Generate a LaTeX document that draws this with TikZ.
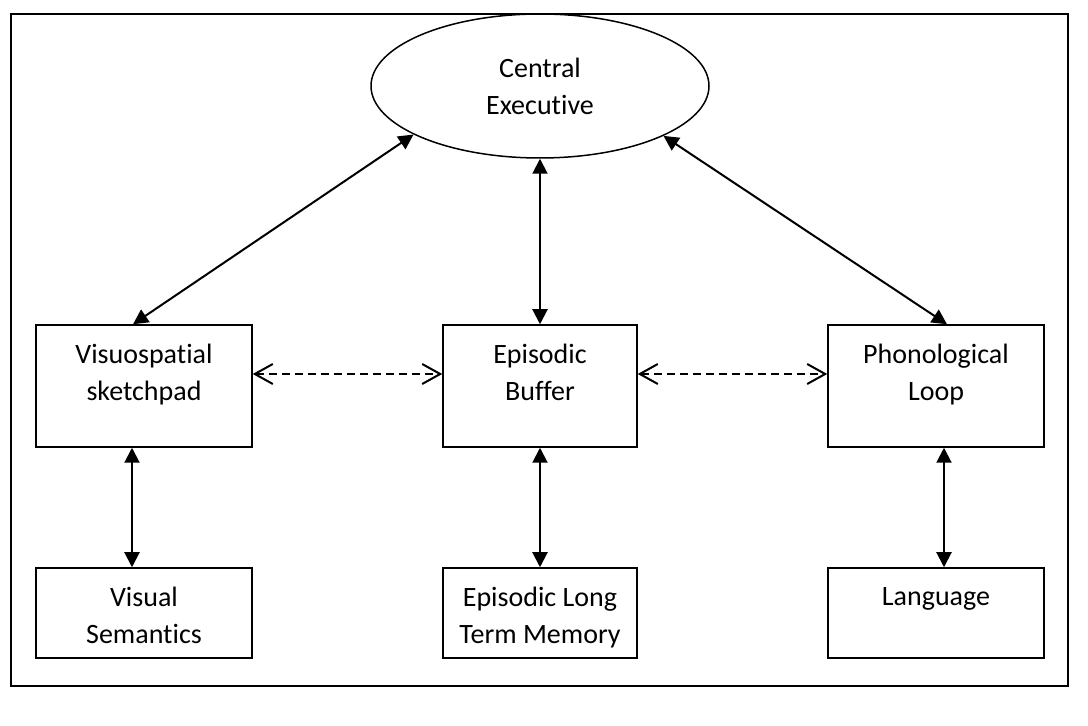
\documentclass[tikz,border=0pt]{standalone}
\usepackage{fontspec}
\setmainfont{Carlito}[Ligatures=CommonOff]
\usetikzlibrary{arrows.meta,shapes.geometric}
\begin{document}
\begin{tikzpicture}[x=0.5pt,y=-0.5pt,
  every node/.style={font=\fontsize{14}{18.5}\selectfont},
  box/.style={draw, line width=0.75pt, inner sep=0pt, minimum height=61pt},
  wide/.style={box, minimum width=108pt},
  narrow/.style={box, minimum width=97pt},
  low/.style={minimum height=45pt},
  txt/.style={label={[anchor=north, yshift=-9.7pt, inner sep=0pt, align=center]north:#1}},
  dbl/.style={line width=1pt, {Triangle[length=7.5pt,width=7.5pt]}-{Triangle[length=7.5pt,width=7.5pt]}},
  dsh/.style={line width=1pt, dash pattern=on 4pt off 2.5pt, {Straight Barb[length=9pt,width=10pt]}-{Straight Barb[length=9pt,width=10pt]}}
]
\useasboundingbox (0,0) rectangle (1088,726);
\draw[line width=1.1pt] (11,14) rectangle (1068,686);

\node[ellipse, draw, line width=0.75pt, minimum width=169pt, minimum height=72pt, inner sep=0pt, align=center] (ce) at (540,86) {Central\\Executive};

\node[wide, txt={Visuospatial\\sketchpad}] (vs) at (144,386) {};
\node[narrow, txt={Episodic\\Buffer}] (eb) at (540,386) {};
\node[wide, txt={Phonological\\Loop}] (pl) at (936,386) {};

\node[wide, low, txt={Visual\\Semantics}] (vsem) at (144,613) {};
\node[narrow, low, txt={Episodic Long\\Term Memory}] (eltm) at (540,613) {};
\node[wide, low, txt={Language}] (lang) at (936,613) {};

\draw[dbl] ([xshift=-5.5pt]vs.north) -- (ce.201.7);
\draw[dbl] ([xshift=5.5pt]pl.north) -- (ce.338.3);
\draw[dbl] (eb.north) -- (ce.south);

\draw[dbl] ([xshift=-6pt]vs.south) -- ([xshift=-6pt]vsem.north);
\draw[dbl] (eb.south) -- (eltm.north);
\draw[dbl] ([xshift=4pt]pl.south) -- ([xshift=4pt]lang.north);

\draw[dsh] ([yshift=6pt]vs.east) -- ([yshift=6pt]eb.west);
\draw[dsh] ([yshift=6pt]eb.east) -- ([yshift=6pt]pl.west);
\end{tikzpicture}
\end{document}
